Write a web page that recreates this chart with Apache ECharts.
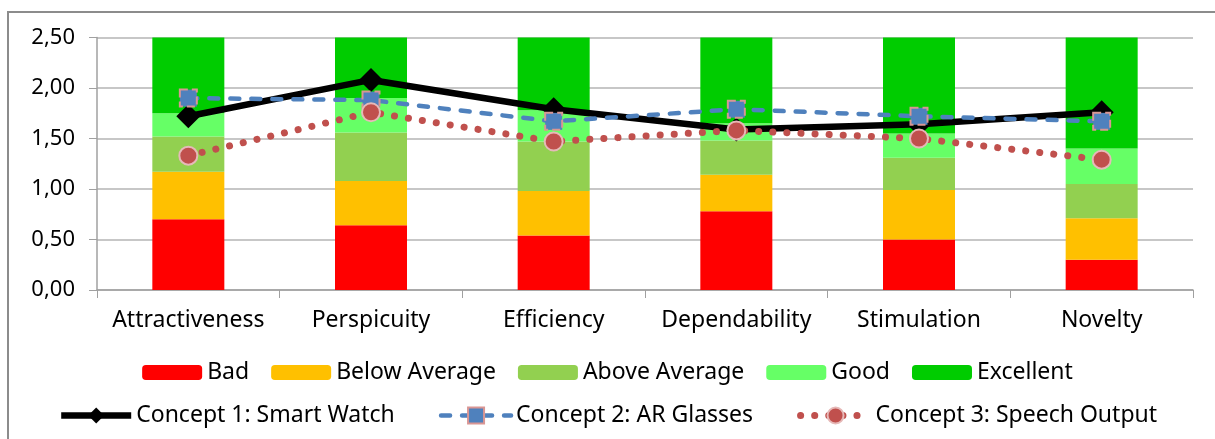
<!DOCTYPE html>
<html>
<head>
<meta charset="utf-8">
<script src="https://cdn.jsdelivr.net/npm/echarts@6/dist/echarts.min.js"></script>
<style>
  html, body { margin: 0; padding: 0; background: #fff; }
  #main { width: 1215px; height: 439px; }
</style>
</head>
<body>
<div id="main"></div>
<script>
// scales
var categories = ['Attractiveness', 'Perspicuity', 'Efficiency', 'Dependability', 'Stimulation', 'Novelty']

// benchmark ranges (stacked increments)
var bad = [0.70, 0.64, 0.54, 0.78, 0.50, 0.30]
var belowAverage = [0.47, 0.44, 0.44, 0.36, 0.49, 0.41]
var aboveAverage = [0.35, 0.48, 0.49, 0.34, 0.32, 0.34]
var good = [0.23, 0.34, 0.31, 0.17, 0.24, 0.35]
var excellent = [0.75, 0.60, 0.72, 0.85, 0.95, 1.10]

// concept means
var smartWatch = [1.72, 2.08, 1.79, 1.59, 1.64, 1.76]
var arGlasses = [1.90, 1.88, 1.67, 1.79, 1.72, 1.67]
var speechOutput = [1.33, 1.76, 1.47, 1.58, 1.50, 1.29]

var font = 'Noto Sans'
var myChart = echarts.init(document.getElementById('main'))

function bar(name, data, color) {
    return {
        name: name,
        type: 'bar',
        stack: 'bench',
        barWidth: 72,
        data: data,
        itemStyle: { color: color },
        emphasis: { disabled: true }
    }
}

myChart.setOption({
    animation: false,
    textStyle: { fontFamily: font },
    graphic: [{
        type: 'rect',
        shape: { x: 8, y: 12, width: 1400, height: 600 },
        style: { fill: 'none', stroke: '#8c8c8c', lineWidth: 2 },
        silent: true
    }],
    grid: { left: 97, right: 22, top: 37.5, bottom: 149 },
    legend: [
        {
            data: ['Bad', 'Below Average', 'Above Average', 'Good', 'Excellent'],
            left: 'center',
            top: 356,
            itemWidth: 60,
            itemHeight: 15,
            itemGap: 22,
            textStyle: { fontFamily: font, fontSize: 23, color: '#000' }
        },
        {
            data: ['Concept 1: Smart Watch', 'Concept 2: AR Glasses', 'Concept 3: Speech Output'],
            left: 'center',
            top: 399,
            itemWidth: 70,
            itemHeight: 20,
            itemGap: 44,
            lineStyle: { width: 'inherit' },
            textStyle: { fontFamily: font, fontSize: 23, color: '#000' }
        }
    ],
    xAxis: {
        type: 'category',
        data: categories,
        axisLine: { lineStyle: { color: '#a0a0a0', width: 1.5 } },
        axisTick: { show: true, length: 8, lineStyle: { color: '#a0a0a0' } },
        axisLabel: { fontFamily: font, fontSize: 23, color: '#000', margin: 19, interval: 0 }
    },
    yAxis: {
        type: 'value',
        min: 0,
        max: 2.5,
        interval: 0.5,
        axisLine: { show: true, lineStyle: { color: '#a0a0a0', width: 1.5 } },
        axisTick: { show: true, length: 8, lineStyle: { color: '#a0a0a0' } },
        splitLine: { lineStyle: { color: '#b4b4b4', width: 1.5 } },
        axisLabel: {
            fontFamily: font, fontSize: 22, color: '#000', margin: 22,
            formatter: function (v) { return v.toFixed(2).replace('.', ',') }
        }
    },
    series: [
        bar('Bad', bad, '#FF0000'),
        bar('Below Average', belowAverage, '#FFC000'),
        bar('Above Average', aboveAverage, '#92D050'),
        bar('Good', good, '#66FF66'),
        bar('Excellent', excellent, '#00CC00'),
        {
            name: 'Concept 1: Smart Watch',
            type: 'line',
            data: smartWatch,
            symbol: 'diamond',
            symbolSize: 24,
            lineStyle: { color: '#000', width: 6.5 },
            itemStyle: { color: '#000' },
            z: 3
        },
        {
            name: 'Concept 2: AR Glasses',
            type: 'line',
            data: arGlasses,
            symbol: 'rect',
            symbolSize: 17,
            lineStyle: { color: '#4F81BD', width: 4.5, type: [9, 12], cap: 'round' },
            itemStyle: { color: '#4F81BD', borderColor: '#D99694', borderWidth: 2, borderType: 'dashed' },
            z: 4
        },
        {
            name: 'Concept 3: Speech Output',
            type: 'line',
            data: speechOutput,
            symbol: 'circle',
            symbolSize: 18,
            lineStyle: { color: '#C0504D', width: 7, type: [0.1, 14], cap: 'round' },
            itemStyle: { color: '#C0504D', borderColor: '#E6B9B8', borderWidth: 2 },
            z: 5
        }
    ]
})
</script>
</body>
</html>
